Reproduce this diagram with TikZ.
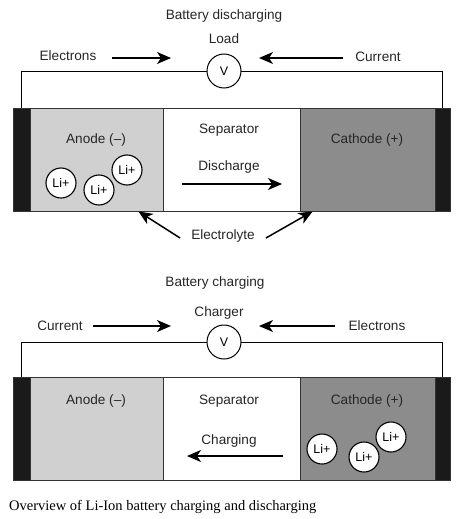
\documentclass[tikz,border=0pt]{standalone}
\usepackage{fontspec}
\setmainfont{Liberation Serif}
\setsansfont{Liberation Sans}
\usetikzlibrary{arrows.meta,positioning}

\definecolor{anodegray}{HTML}{D0D0D0}
\definecolor{cathodegray}{HTML}{8C8C8C}
\definecolor{tabblack}{HTML}{1A1A1A}
\definecolor{edgegray}{HTML}{333333}

\tikzset{
  lbl/.style={font=\sffamily\fontsize{13.6}{15}\selectfont, text=black!85,
    inner sep=0pt, text height=9.8pt, text depth=0pt},
  ion/.style={circle, draw=black, line width=1.1pt, fill=white, minimum size=30pt,
    inner sep=0pt, font=\sffamily\fontsize{12.5}{14}\selectfont},
  meter/.style={circle, draw=black, line width=1pt, fill=white, minimum size=34pt,
    inner sep=0pt, font=\sffamily\fontsize{12.5}{14}\selectfont},
  cell/.style={draw=edgegray, line width=0.9pt, minimum height=103pt, inner sep=0pt},
  flow/.style={-{Stealth[length=14pt,width=12pt,inset=4pt]}, line width=1.5pt},
}

\begin{document}
\begin{tikzpicture}[x=1pt,y=-1pt]
      \useasboundingbox (0,0) rectangle (464,519);

      % battery discharging
      \node[lbl] (title1) at (224,15) {Battery discharging};
      \node[lbl] (load) at (224,39) {Load};
      \node[cell, fill=tabblack, minimum width=17pt] (tabL1) at (21.5,159.5) {};
      \node[cell, fill=tabblack, minimum width=15pt] (tabR1) at (442.5,159.5) {};
      \node[cell, fill=anodegray, minimum width=133pt] (anode1) at (96.5,159.5) {};
      \node[cell, fill=white, minimum width=137pt] (sep1) at (231.5,159.5) {};
      \node[cell, fill=cathodegray, minimum width=135pt] (cathode1) at (367.5,159.5) {};
      \draw[line width=1pt] (224,71) -| (tabL1.north);
      \draw[line width=1pt] (224,71) -| (tabR1.north);
      \node[meter] (V1) at (224,71) {V};

      \node[lbl] (anodetxt1) at (96,139) {Anode (--)};
      \node[lbl] (septxt1) at (229,129) {Separator};
      \node[lbl] (cathtxt1) at (367,139) {Cathode (+)};
      \node[lbl] (discharge) at (229,166) {Discharge};
      \foreach \x/\y [count=\i] in {61/183, 99/190, 127/170}
        \node[ion] (ionA\i) at (\x,\y) {Li+};

      \node[lbl] (electrons1) at (68,56) {Electrons};
      \node[lbl] (current1) at (378,57) {Current};
      \node[lbl] (electrolyte) at (223,235) {Electrolyte};
      \coordinate (e1a) at (112,58);
      \coordinate (e1b) at (171,58);
      \coordinate (c1a) at (343,58);
      \coordinate (c1b) at (259,58);
      \coordinate (d1a) at (182,184);
      \coordinate (d1b) at (282,184);
      \draw[flow] (e1a) -- (e1b);
      \draw[flow] (c1a) -- (c1b);
      \draw[flow] (d1a) -- (d1b);
      \draw[flow] ([xshift=-11pt,yshift=-3pt]electrolyte.west) -- ([xshift=-25pt]anode1.south east);
      \draw[flow] ([xshift=11pt,yshift=-3pt]electrolyte.east) -- ([xshift=13pt]cathode1.south west);

      % battery charging
      \node[lbl] (title2) at (215,282) {Battery charging};
      \node[lbl] (charger) at (219,312) {Charger};
      \node[cell, fill=tabblack, minimum width=17pt] (tabL2) at (21.5,428.5) {};
      \node[cell, fill=tabblack, minimum width=15pt] (tabR2) at (442.5,428.5) {};
      \node[cell, fill=anodegray, minimum width=133pt] (anode2) at (96.5,428.5) {};
      \node[cell, fill=white, minimum width=137pt] (sep2) at (231.5,428.5) {};
      \node[cell, fill=cathodegray, minimum width=135pt] (cathode2) at (367.5,428.5) {};
      \draw[line width=1pt] (224,342) -| (tabL2.north);
      \draw[line width=1pt] (224,342) -| (tabR2.north);
      \node[meter] (V2) at (224,342) {V};

      \node[lbl] (anodetxt2) at (96,400) {Anode (--)};
      \node[lbl] (septxt2) at (229,400) {Separator};
      \node[lbl] (cathtxt2) at (367,400) {Cathode (+)};
      \node[lbl] (charging) at (229,440) {Charging};
      \foreach \x/\y [count=\i] in {322/449, 364/457, 391/437}
        \node[ion] (ionB\i) at (\x,\y) {Li+};

      \node[lbl] (current2) at (60,326) {Current};
      \node[lbl] (electrons2) at (377,326) {Electrons};
      \coordinate (c2a) at (93,326);
      \coordinate (c2b) at (171,326);
      \coordinate (e2a) at (335,326);
      \coordinate (e2b) at (259,326);
      \coordinate (d2a) at (283,456);
      \coordinate (d2b) at (187,456);
      \draw[flow] (c2a) -- (c2b);
      \draw[flow] (e2a) -- (e2b);
      \draw[flow] (d2a) -- (d2b);

      \node[anchor=west, font=\fontsize{14.5}{16}\selectfont, inner sep=0pt] (caption) at (9,507) {Overview of Li-Ion battery charging and discharging};
\end{tikzpicture}
\end{document}
